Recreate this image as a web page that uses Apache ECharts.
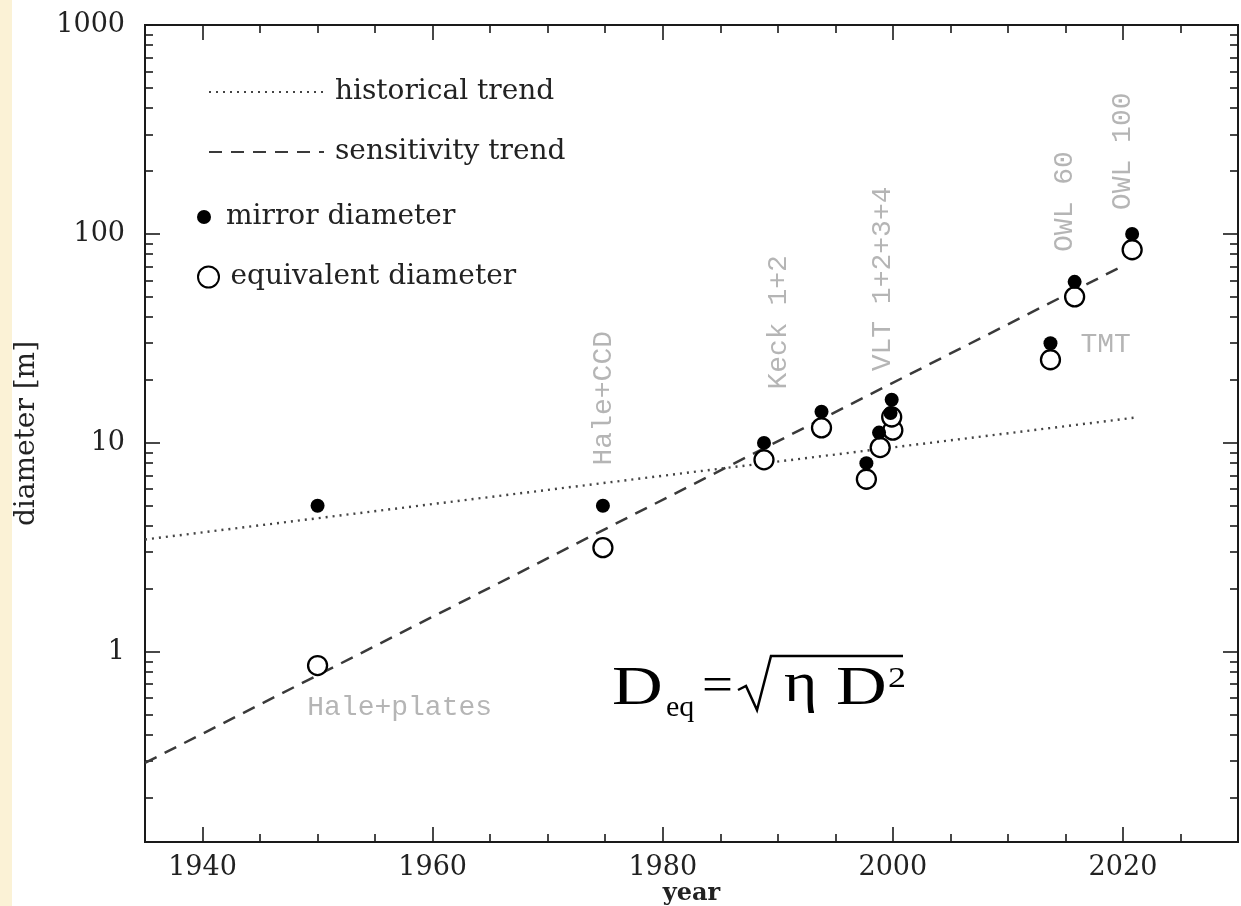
<!DOCTYPE html>
<html>
<head>
<meta charset="utf-8">
<script src="https://cdn.jsdelivr.net/npm/echarts@6/dist/echarts.min.js"></script>
<style>
html, body { margin: 0; padding: 0; background: #fff; }
#chart { width: 1241px; height: 906px; }
</style>
</head>
<body>
<div id="chart"></div>
<script>
// year axis
var yearMin = 1935, yearMax = 2030;
var yearMajor = [1940, 1960, 1980, 2000, 2020];
var yearMinor = [1945, 1950, 1955, 1965, 1970, 1975, 1985, 1990, 1995, 2005, 2010, 2015, 2025];

// diameter axis (log), metres
var diamMin = 0.123, diamMax = 1000;
var diamMajor = [1, 10, 100, 1000];
var diamMinor = [0.2, 0.3, 0.4, 0.5, 0.6, 0.7, 0.8, 0.9,
  2, 3, 4, 5, 6, 7, 8, 9, 20, 30, 40, 50, 60, 70, 80, 90,
  200, 300, 400, 500, 600, 700, 800, 900];

// telescopes: mirror diameter (filled) and equivalent diameter (open)
var mirrorYears = [1950, 1974.8, 1988.8, 1993.8, 1997.7, 1998.8, 1999.8, 1999.9, 2013.7, 2015.8, 2020.8];
var mirrorDiam = [5, 5, 10, 14.1, 8.0, 11.2, 13.9, 16.1, 30, 59, 100];
var eqYears = [1950, 1974.8, 1988.8, 1993.8, 1997.7, 1998.9, 2000.0, 1999.9, 2013.7, 2015.8, 2020.8];
var eqDiam = [0.86, 3.15, 8.3, 11.8, 6.7, 9.5, 11.5, 13.3, 25, 50, 84];

// trend lines (end points)
var histYears = [1935, 2021];
var histDiam = [3.45, 13.2];
var sensYears = [1935, 2019.7];
var sensDiam = [0.294, 69];

// grey annotations
var noteText = ['Hale+CCD', 'Keck 1+2', 'VLT 1+2+3+4', 'OWL 60', 'OWL 100', 'TMT', 'Hale+plates'];
var noteYears = [1974.9, 1990.1, 1999.1, 2014.9, 2020.0, 2016.3, 1949.1];
var noteDiam = [7.8, 18, 22, 82, 130, 29.4, 0.54];
var noteUpright = [true, true, true, true, true, false, false];

var lg = Math.log10;
var serif = '"DejaVu Serif"';

function pairs(xs, ys) {
  return xs.map(function (x, i) { return [x, lg(ys[i])]; });
}

function xAxisAt(pos, ticks, len, withLabels) {
  return {
    type: 'value', gridIndex: 0, position: pos, min: yearMin, max: yearMax,
    axisLine: { show: true, onZero: false, lineStyle: { color: '#1a1a1a', width: 2 } },
    axisTick: { show: true, inside: true, length: len, customValues: ticks, lineStyle: { color: '#1a1a1a', width: 1.6 } },
    axisLabel: withLabels ? {
      show: true, customValues: yearMajor, margin: 12,
      fontFamily: serif, fontSize: 27, color: '#222',
      formatter: function (v) { return String(v); }
    } : { show: false },
    splitLine: { show: false }
  };
}

function yAxisAt(pos, ticks, len, withLabels) {
  return {
    type: 'value', gridIndex: 0, position: pos, min: lg(diamMin), max: lg(diamMax),
    axisLine: { show: true, onZero: false, lineStyle: { color: '#1a1a1a', width: 2 } },
    axisTick: { show: true, inside: true, length: len, customValues: ticks.map(lg), lineStyle: { color: '#1a1a1a', width: 1.6 } },
    axisLabel: withLabels ? {
      show: true, customValues: diamMajor.map(lg), margin: 20,
      fontFamily: serif, fontSize: 27, color: '#222',
      formatter: function (v) { return String(Math.round(Math.pow(10, v))); }
    } : { show: false },
    splitLine: { show: false }
  };
}

var xAxes = [
  xAxisAt('bottom', yearMajor, 15, true),
  xAxisAt('bottom', yearMinor, 8, false),
  xAxisAt('top', yearMajor, 15, false),
  xAxisAt('top', yearMinor, 8, false)
];
xAxes[0].name = 'year';
xAxes[0].nameLocation = 'middle';
xAxes[0].nameGap = 40;
xAxes[0].nameMoveOverlap = false;
xAxes[0].nameTextStyle = { fontFamily: serif, fontSize: 24, fontWeight: 'bold', color: '#222' };

var yAxes = [
  yAxisAt('left', diamMajor, 15, true),
  yAxisAt('left', diamMinor, 8, false),
  yAxisAt('right', diamMajor, 15, false),
  yAxisAt('right', diamMinor, 8, false)
];
yAxes[0].name = 'diameter [m]';
yAxes[0].nameLocation = 'middle';
yAxes[0].nameRotate = 90;
yAxes[0].nameGap = 104;
yAxes[0].nameMoveOverlap = false;
yAxes[0].nameTextStyle = { fontFamily: serif, fontSize: 28, color: '#222' };

var legendText = { fontFamily: serif, fontSize: 28, color: '#222', padding: [0, 0, 0, 6] };

var chart = echarts.init(document.getElementById('chart'));
var option = {
  animation: false,
  backgroundColor: '#fff',
  grid: { left: 145, right: 3, top: 25, bottom: 64, containLabel: false, outerBoundsMode: 'none' },
  xAxis: xAxes,
  yAxis: yAxes,
  legend: [
    {
      data: ['historical trend', 'sensitivity trend'], orient: 'vertical',
      left: 203, top: 73, itemWidth: 115, itemHeight: 14, itemGap: 32,
      itemStyle: { opacity: 0 },
      textStyle: legendText, selectedMode: false
    },
    {
      data: ['mirror diameter'], left: 192, top: 198,
      itemWidth: 22, itemHeight: 14, textStyle: legendText, selectedMode: false
    },
    {
      data: ['equivalent diameter'], left: 192, top: 258,
      itemWidth: 22, itemHeight: 21, textStyle: legendText, selectedMode: false
    }
  ],
  series: [
    {
      name: 'historical trend', type: 'line', data: pairs(histYears, histDiam),
      symbol: 'none', silent: true, z: 2,
      itemStyle: { color: '#444' },
      lineStyle: { color: '#444', width: 2.4, type: [2, 5] }
    },
    {
      name: 'sensitivity trend', type: 'line', data: pairs(sensYears, sensDiam),
      symbol: 'none', silent: true, z: 2,
      itemStyle: { color: '#444' },
      lineStyle: { color: '#3a3a3a', width: 2.5, type: [13, 9] }
    },
    {
      name: 'equivalent diameter', type: 'scatter', data: pairs(eqYears, eqDiam),
      symbolSize: 19, z: 3,
      itemStyle: { color: '#fff', borderColor: '#000', borderWidth: 2.3, opacity: 1 }
    },
    {
      name: 'mirror diameter', type: 'scatter', data: pairs(mirrorYears, mirrorDiam),
      symbolSize: 14, z: 4,
      itemStyle: { color: '#000', opacity: 1 }
    },
    {
      name: 'notes', type: 'scatter', symbolSize: 0, silent: true, z: 5,
      data: noteText.map(function (t, i) {
        return {
          value: [noteYears[i], lg(noteDiam[i])],
          label: { rotate: noteUpright[i] ? 90 : 0 }
        };
      }),
      label: {
        show: true, position: 'inside', align: 'left', verticalAlign: 'middle',
        formatter: function (p) { return noteText[p.dataIndex]; },
        fontFamily: '"Liberation Mono"', fontSize: 28, color: '#a3a3a3'
      }
    }
  ],
  graphic: [
    { type: 'rect', left: 0, top: 0, shape: { width: 12, height: 906 }, style: { fill: '#fbf2d6' }, silent: true },
    { type: 'text', x: 612, y: 690, scaleX: 1.3, style: { text: 'D', font: '54px "Liberation Serif"', fill: '#000', align: 'left', verticalAlign: 'middle' } },
    { type: 'text', x: 666, y: 708, scaleX: 1.0, style: { text: 'eq', font: '30px "Liberation Serif"', fill: '#000', align: 'left', verticalAlign: 'middle' } },
    { type: 'text', x: 702, y: 688, scaleX: 1.1, style: { text: '=', font: '50px "Liberation Serif"', fill: '#000', align: 'left', verticalAlign: 'middle' } },
    { type: 'text', x: 784, y: 686, scaleX: 1.1, style: { text: 'η', font: '58px "Liberation Serif"', fill: '#000', align: 'left', verticalAlign: 'middle' } },
    { type: 'text', x: 836, y: 690, scaleX: 1.3, style: { text: 'D', font: '54px "Liberation Serif"', fill: '#000', align: 'left', verticalAlign: 'middle' } },
    { type: 'text', x: 888, y: 679, scaleX: 1.2, style: { text: '2', font: '30px "Liberation Serif"', fill: '#000', align: 'left', verticalAlign: 'middle' } },
    { type: 'polyline', shape: { points: [[738, 690], [746, 686], [757, 710], [771, 656], [903, 656]] }, style: { stroke: '#000', lineWidth: 2.5, fill: null } }
  ]
};
chart.setOption(option);
</script>
</body>
</html>
